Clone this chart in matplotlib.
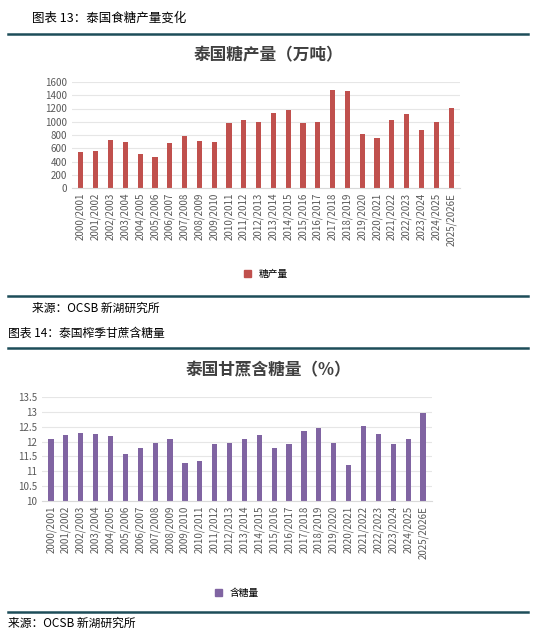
import matplotlib
matplotlib.use('Agg')
import matplotlib.pyplot as plt
from matplotlib.patches import Patch

plt.rcParams['font.family'] = ['Noto Sans CJK SC', 'DejaVu Sans']

seasons = ["2000/2001","2001/2002","2002/2003","2003/2004","2004/2005","2005/2006","2006/2007",
           "2007/2008","2008/2009","2009/2010","2010/2011","2011/2012","2012/2013","2013/2014",
           "2014/2015","2015/2016","2016/2017","2017/2018","2018/2019","2019/2020","2020/2021",
           "2021/2022","2022/2023","2023/2024","2024/2025","2025/2026E"]
sugar_output = [540,565,730,700,515,475,675,780,715,690,975,1025,1000,1135,1175,975,1000,1475,1460,
                820,760,1025,1110,875,1000,1205]
sugar_content = [12.1,12.22,12.3,12.25,12.18,11.58,11.8,11.95,12.1,11.28,11.35,11.92,11.95,12.1,12.22,
                 11.8,11.92,12.37,12.45,11.95,11.2,12.52,12.25,11.92,12.1,12.96]

W, H = 541, 640
fig = plt.figure(figsize=(W/100, H/100), dpi=100)
line_c = '#1d4d59'

def px_axes(x0, y0, x1, y1):
    return fig.add_axes([x0/W, 1-y1/H, (x1-x0)/W, (y1-y0)/H])

def hline(y, lw=1.8):
    fig.add_artist(plt.Line2D([8/W, 528/W], [1-y/H, 1-y/H], color=line_c, lw=lw))

def txt(x, y, s, **kw):
    fig.text(x/W, 1-y/H, s, **kw)

txt(32, 18, "图表 13：泰国食糖产量变化", fontsize=9, va='center')
hline(34)
txt(268, 55, "泰国糖产量（万吨）", fontsize=12, weight='bold', ha='center', va='center', color='#404040')
hline(296)
txt(32, 308, "来源：OCSB 新湖研究所", fontsize=8.5, va='center')
txt(8, 333, "图表 14：泰国榨季甘蔗含糖量", fontsize=8.5, va='center')
hline(348)
txt(268, 370, "泰国甘蔗含糖量（%）", fontsize=12, weight='bold', ha='center', va='center', color='#404040')
hline(612)
txt(8, 623, "来源：OCSB 新湖研究所", fontsize=8.5, va='center')

def style(ax):
    for s in ax.spines.values():
        s.set_visible(False)
    ax.spines['bottom'].set_visible(True)
    ax.spines['bottom'].set_color('#d9d9d9')
    ax.grid(axis='y', color='#e6e6e6', lw=0.8)
    ax.set_axisbelow(True)
    ax.tick_params(axis='both', length=0, labelsize=7, colors='#595959')
    ax.set_xticks(range(len(seasons)))
    ax.set_xticklabels(seasons, rotation=90)
    ax.set_xlim(-0.6, len(seasons)-0.4)

ax1 = px_axes(72, 82, 460, 188)
ax1.bar(range(len(seasons)), sugar_output, width=0.35, color='#c0504d')
ax1.set_ylim(0, 1600)
ax1.set_yticks(range(0, 1601, 200))
style(ax1)
ax1.legend(handles=[Patch(color='#c0504d', label='糖产量')], loc='upper center',
           bbox_to_anchor=(0.5, -0.68), frameon=False, fontsize=7, handlelength=0.7)

ax2 = px_axes(42, 397, 432, 501)
ax2.bar(range(len(seasons)), sugar_content, width=0.35, color='#8064a2')
ax2.set_ylim(10, 13.5)
ax2.set_yticks([10, 10.5, 11, 11.5, 12, 12.5, 13, 13.5])
ax2.set_yticklabels(['10', '10.5', '11', '11.5', '12', '12.5', '13', '13.5'])
style(ax2)
ax2.legend(handles=[Patch(color='#8064a2', label='含糖量')], loc='upper center',
           bbox_to_anchor=(0.5, -0.75), frameon=False, fontsize=7, handlelength=0.7)

fig.savefig('out.png', dpi=100)
